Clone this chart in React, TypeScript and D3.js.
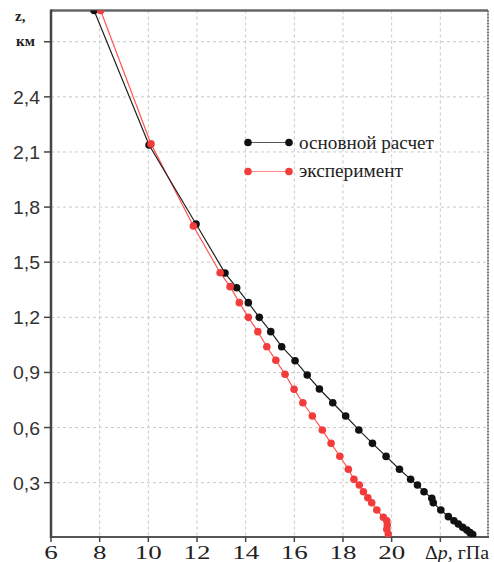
import React from "react";
import * as d3 from "d3";

const W = 494;
const H = 562;

const xTicks = [6, 8, 10, 12, 14, 16, 18, 20, 22];
const xTickLabels = ["6", "8", "10", "12", "14", "16", "18", "20", ""];
const yTicks = [0.3, 0.6, 0.9, 1.2, 1.5, 1.8, 2.1, 2.4, 2.7];
const yTickLabels = ["0,3", "0,6", "0,9", "1,2", "1,5", "1,8", "2,1", "2,4", ""];

const calcDp = [7.77, 10.03, 11.96, 13.15, 13.63, 14.11, 14.56, 15.03, 15.48, 16.03, 16.53, 17.03, 17.58, 18.11, 18.65, 19.21, 19.77, 20.32, 20.78, 21.06, 21.33, 21.65, 21.71, 22.02, 22.33, 22.56, 22.74, 22.92, 23.09, 23.22, 23.33];
const calcZ = [2.87, 2.138, 1.708, 1.441, 1.361, 1.28, 1.2, 1.122, 1.04, 0.964, 0.886, 0.81, 0.735, 0.663, 0.587, 0.514, 0.443, 0.373, 0.318, 0.287, 0.251, 0.215, 0.191, 0.151, 0.115, 0.093, 0.075, 0.057, 0.042, 0.028, 0.018];

const expDp = [8.04, 10.11, 11.85, 12.95, 13.36, 13.74, 14.11, 14.5, 14.87, 15.24, 15.62, 15.99, 16.35, 16.74, 17.15, 17.51, 17.87, 18.22, 18.45, 18.67, 18.84, 19.02, 19.18, 19.39, 19.66, 19.8, 19.82, 19.8, 19.86];
const expZ = [2.87, 2.144, 1.697, 1.443, 1.367, 1.28, 1.2, 1.122, 1.04, 0.966, 0.89, 0.808, 0.735, 0.663, 0.587, 0.514, 0.444, 0.373, 0.318, 0.287, 0.251, 0.218, 0.191, 0.151, 0.112, 0.093, 0.07, 0.046, 0.021];

const legendLabels = ["основной расчет", "эксперимент"];

const L = 51, R = 488, T = 10.5, B = 537;
const SERIF = '"Liberation Serif", "Times New Roman", Times, "DejaVu Serif", serif';
const SANS = '"Liberation Sans", Arial, Helvetica, sans-serif';

export default function App() {
  const x = d3.scaleLinear().domain([6, 24]).range([L, R + 1]);
  const y = d3.scaleLinear().domain([0, 2.87]).range([B + 0.8, T]);

  const calc = calcDp.map((d, i) => [d, calcZ[i]] as [number, number]);
  const exp = expDp.map((d, i) => [d, expZ[i]] as [number, number]);
  const line = d3.line<[number, number]>().x((d) => x(d[0])).y((d) => y(d[1]));

  const blackC = "#111";
  const redC = "#f23c3c";

  return (
    <svg width={W} height={H} style={{ position: "absolute", left: 0, top: 0, background: "#fff" }}>
      <defs>
        <clipPath id="plot">
          <rect x={L} y={T} width={R - L} height={B - T} />
        </clipPath>
      </defs>
      {xTicks.slice(1).map((t) => (
        <line key={"gx" + t} x1={x(t)} x2={x(t)} y1={T} y2={B} stroke="#c8c8c8" strokeWidth={1} strokeDasharray="3,3" />
      ))}
      {yTicks.map((t) => (
        <line key={"gy" + t} x1={L} x2={R} y1={y(t)} y2={y(t)} stroke="#c8c8c8" strokeWidth={1} strokeDasharray="3,3" />
      ))}
      <line x1={R} x2={R} y1={T} y2={B} stroke="#777" strokeWidth={2} strokeDasharray="2,1" />
      <line x1={L} x2={R} y1={T} y2={T} stroke="#666" strokeWidth={2.5} />
      <line x1={L - 1} x2={R + 1} y1={B} y2={B} stroke="#555" strokeWidth={2} />
      <line x1={L} x2={L} y1={T - 1} y2={B + 1} stroke="#444" strokeWidth={2.5} />
      {yTicks.map((t) => (
        <line key={"ty" + t} x1={L - 7} x2={L} y1={y(t)} y2={y(t)} stroke="#444" strokeWidth={1.5} />
      ))}
      {xTicks.map((t) => (
        <line key={"tx" + t} x1={x(t)} x2={x(t)} y1={B} y2={B + 5} stroke="#444" strokeWidth={1.5} />
      ))}
      {yTicks.map((t, i) => (
        <text key={"ly" + t} x={40} y={y(t) + 7} textAnchor="end" style={{ fontFamily: SANS }} fontSize={18.5} fill="#333"
          textLength={yTickLabels[i] ? 27 : undefined} lengthAdjust="spacingAndGlyphs">
          {yTickLabels[i]}
        </text>
      ))}
      {xTicks.map((t, i) =>
        xTickLabels[i] ? (
          <text key={"lx" + t} x={x(t)} y={559} textAnchor="middle" style={{ fontFamily: SERIF }} fontSize={19} fill="#222"
            textLength={xTickLabels[i].length * 13.5} lengthAdjust="spacingAndGlyphs">
            {xTickLabels[i]}
          </text>
        ) : null
      )}
      <text x={425} y={559} style={{ fontFamily: SERIF }} fontSize={19} fill="#222" textLength={64} lengthAdjust="spacingAndGlyphs">
        Δ<tspan fontStyle="italic">p</tspan>, гПа
      </text>
      <text x={15} y={21} style={{ fontFamily: SERIF }} fontSize={15} fontWeight="bold" fill="#222">z,</text>
      <text x={16} y={46} style={{ fontFamily: SERIF }} fontSize={15} fontWeight="bold" fill="#222">км</text>
      <g clipPath="url(#plot)">
        <path d={line(exp) || ""} fill="none" stroke="#f55" strokeWidth={1.2} />
        <path d={line(calc) || ""} fill="none" stroke="#222" strokeWidth={1.2} />
        {calc.map((d, i) => (
          <circle key={"c" + i} cx={x(d[0])} cy={y(d[1])} r={3.8} fill={blackC} />
        ))}
        {exp.map((d, i) => (
          <circle key={"e" + i} cx={x(d[0])} cy={y(d[1])} r={3.8} fill={redC} />
        ))}
      </g>
      <line x1={248} x2={289} y1={142.5} y2={142.5} stroke="#555" strokeWidth={1.2} />
      <circle cx={248} cy={142.5} r={3.8} fill={blackC} />
      <circle cx={289} cy={142.5} r={3.8} fill={blackC} />
      <text x={299} y={148.5} style={{ fontFamily: SERIF }} fontSize={18} fill="#222" textLength={135} lengthAdjust="spacingAndGlyphs">
        {legendLabels[0]}
      </text>
      <line x1={248} x2={289} y1={171.5} y2={171.5} stroke="#f88" strokeWidth={1.2} />
      <circle cx={248} cy={171.5} r={3.8} fill={redC} />
      <circle cx={289} cy={171.5} r={3.8} fill={redC} />
      <text x={299} y={176.5} style={{ fontFamily: SERIF }} fontSize={18} fill="#222" textLength={104} lengthAdjust="spacingAndGlyphs">
        {legendLabels[1]}
      </text>
    </svg>
  );
}
